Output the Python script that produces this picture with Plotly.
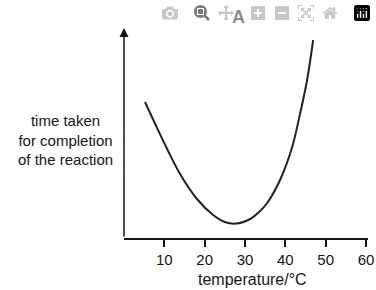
import plotly.graph_objects as go

temperature = [5.2, 8.2, 10.7, 13.9, 18.1, 22.1, 25.0, 27.8, 31.3, 33.5, 35.5, 38.7, 41.7, 43.7, 45.4, 46.9]
time_taken = [68, 55, 44.5, 32, 19.5, 11.5, 8.0, 7.2, 9.5, 13, 17.5, 29, 45.5, 62.5, 79, 99]
x_ticks = [10, 20, 30, 40, 50, 60]

ink = "#151515"
font = "Liberation Sans, Arial, sans-serif"

W, H = 376, 290
L, T = 124, 28
R = W - 368
B = H - 238

fig = go.Figure()
fig.add_trace(go.Scatter(x=temperature, y=time_taken, mode="lines",
                         line=dict(color="#222222", width=2, shape="spline", smoothing=1.0),
                         hoverinfo="skip", showlegend=False))

pw, ph = W - L - R, H - T - B

def px_x(x):
    return (x - L) / pw

def px_y(y):
    return (H - B - y) / ph

fig.update_layout(
    width=W, height=H,
    margin=dict(l=L, r=R, t=T, b=B, autoexpand=False),
    paper_bgcolor="white", plot_bgcolor="white",
    font=dict(family=font, color=ink, size=15),
    xaxis=dict(range=[0, 60.5], tickvals=x_ticks, ticks="outside", ticklen=7,
               tickwidth=1.5, tickcolor=ink, showline=True, linecolor=ink, linewidth=1.5,
               showgrid=False, zeroline=False, tickfont=dict(size=15), automargin=False,
               ticklabeloverflow="allow"),
    yaxis=dict(range=[0, 105], showticklabels=False, ticks="", showgrid=False,
               zeroline=False, showline=False, automargin=False),
    annotations=[
        dict(x=0, y=105, ax=0, ay=0, xref="x", yref="y", axref="x", ayref="y",
             showarrow=True, arrowhead=2, arrowsize=1.2, arrowwidth=1.5,
             arrowcolor=ink, text=""),
        dict(x=px_x(238), y=px_y(17), xref="paper", yref="paper", text="<b>A</b>",
             xanchor="center", yanchor="middle", showarrow=False, font=dict(size=18)),
        dict(x=px_x(65), y=px_y(140), xref="paper", yref="paper",
             xanchor="center", yanchor="middle",
             text="time taken<br>for completion<br>of the reaction",
             showarrow=False, font=dict(size=15), align="center"),
        dict(x=px_x(252), y=px_y(279), xref="paper", yref="paper",
             xanchor="center", yanchor="middle", text="temperature/°C",
             showarrow=False, font=dict(size=16)),
    ],
)

# remove the page's default 8px body margin so the figure fills the window exactly
fig.write_html("out.html",
               post_script="document.body.style.margin='0';document.body.style.overflow='hidden';")
